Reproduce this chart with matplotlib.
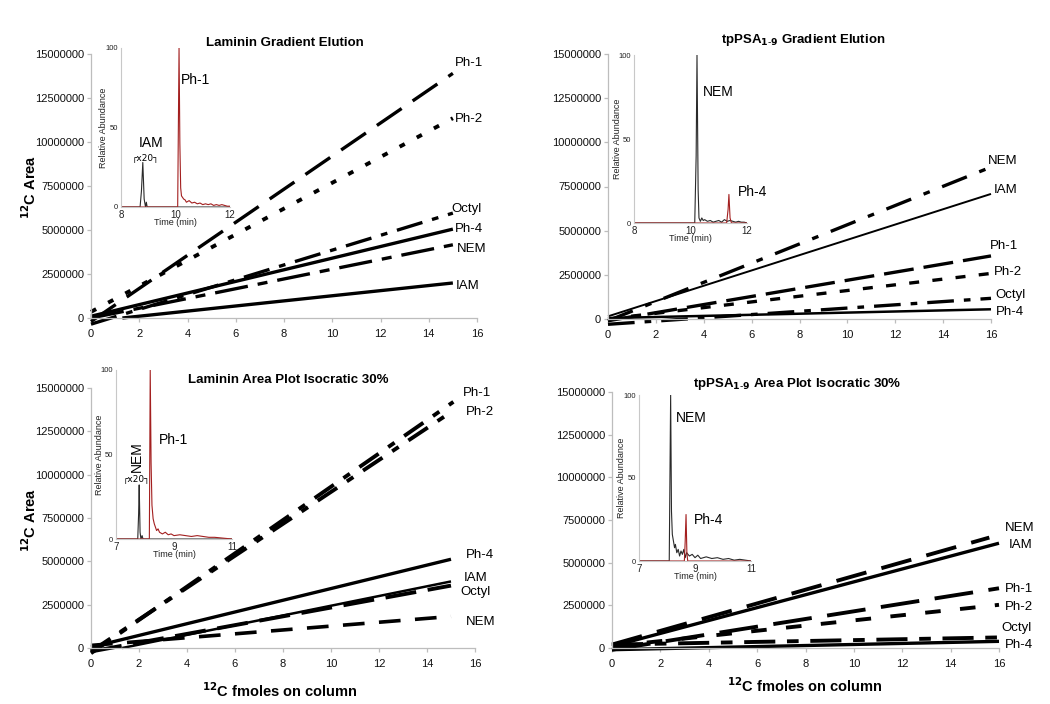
import matplotlib.pyplot as plt
from matplotlib.ticker import FixedLocator

plt.rcParams['font.family'] = ['Liberation Sans', 'DejaVu Sans']

# ---- area plot data: each fitted line as [start, end] ----
tl_names = ['Ph-1', 'Ph-2', 'Octyl', 'Ph-4', 'NEM', 'IAM']
tl_x = [[0, 15], [0, 15], [0, 15], [0, 15], [0, 15], [1.3, 15]]
tl_y = [[-0.2e6, 13.9e6], [0.35e6, 11.35e6], [-0.35e6, 5.96e6],
        [0.1e6, 5.05e6], [0.0, 4.16e6], [0.0, 1.99e6]]

tr_names = ['NEM', 'IAM', 'Ph-1', 'Ph-2', 'Octyl', 'Ph-4']
tr_x = [[0, 15.8], [0, 16], [0, 16], [0, 16], [0, 16], [0, 16]]
tr_y = [[-0.1e6, 8.49e6], [0.15e6, 7.08e6], [-0.1e6, 3.57e6],
        [0.0, 2.58e6], [-0.3e6, 1.17e6], [0.05e6, 0.55e6]]

bl_names = ['Ph-1', 'Ph-2', 'Ph-4', 'IAM', 'Octyl', 'NEM']
bl_x = [[0, 15.1], [0, 15.1], [0, 15], [1.3, 15], [0, 15], [0, 15]]
bl_y = [[-0.3e6, 14.2e6], [-0.2e6, 13.7e6], [0.05e6, 5.12e6],
        [0.0, 3.84e6], [-0.2e6, 3.6e6], [0.15e6, 1.82e6]]

br_names = ['NEM', 'IAM', 'Ph-1', 'Ph-2', 'Octyl', 'Ph-4']
br_x = [[0, 15.6], [0, 16], [0, 16], [0, 16], [0, 16], [0, 16]]
br_y = [[0.2e6, 6.47e6], [0.1e6, 6.14e6], [-0.1e6, 3.5e6],
        [0.1e6, 2.53e6], [0.2e6, 0.62e6], [-0.1e6, 0.39e6]]

y_ticks = [0, 2500000, 5000000, 7500000, 10000000, 12500000, 15000000]
x_ticks = [0, 2, 4, 6, 8, 10, 12, 14, 16]

# ---- chromatogram insets ----
tl_blk_t = [8.0, 8.7, 8.75, 8.8, 8.85, 8.9, 8.93, 8.96, 9.0, 12.0]
tl_blk_i = [0, 0, 10, 28, 5, 0, 3, 0, 0, 0]
tl_red_t = [8.0, 10.08, 10.13, 10.16, 10.19, 10.22, 10.26, 10.3, 10.35, 10.4, 10.5,
            10.6, 10.7, 10.8, 10.9, 11.0, 11.1, 11.2, 11.3, 11.4, 11.5, 11.6,
            11.7, 11.8, 11.9, 12.0]
tl_red_i = [0, 0, 100, 40, 12, 7, 6, 5, 4.5, 3, 4, 2.5, 3, 2, 2.5, 1.5, 2, 1.5,
            2, 1, 1.5, 1, 1.5, 1, 0.5, 0.5]

tr_blk_t = [8.0, 10.15, 10.2, 10.23, 10.27, 10.3, 10.35, 10.4, 10.45, 10.5, 10.6,
            10.7, 10.8, 10.9, 11.0, 11.1, 11.2, 11.3, 11.4, 11.5, 11.6, 11.7,
            11.8, 11.9, 12.0]
tr_blk_i = [0, 0, 40, 100, 20, 3, 1, 3, 1.5, 2, 1, 1.5, 0.5, 1, 1.5, 0.5, 2, 1,
            1.5, 1, 0.5, 1, 0.5, 0.5, 0]
tr_red_t = [8.0, 11.28, 11.33, 11.36, 11.4, 11.45, 12.0]
tr_red_i = [0, 0, 8, 17, 3, 0, 0]

bl_blk_t = [7.0, 7.75, 7.78, 7.8, 7.83, 7.86, 7.9, 7.93, 11.0]
bl_blk_i = [0, 0, 15, 32, 4, 0, 2, 0, 0]
bl_red_t = [7.0, 8.15, 8.18, 8.21, 8.24, 8.28, 8.32, 8.36, 8.4, 8.45, 8.5, 8.6,
            8.7, 8.8, 8.9, 9.0, 9.2, 9.4, 9.6, 9.8, 10.0, 10.2, 10.4, 11.0]
bl_red_i = [0, 0, 100, 45, 20, 12, 9, 7, 5, 6, 4, 3, 4, 2.5, 3, 2, 2.5, 2, 1.5,
            2, 1.5, 1, 1, 0]

br_blk_t = [7.0, 8.08, 8.13, 8.16, 8.19, 8.23, 8.27, 8.3, 8.35, 8.4, 8.45, 8.5,
            8.55, 8.6, 8.65, 8.7, 8.8, 8.9, 9.0, 9.1, 9.2, 9.4, 9.6, 9.8, 10.0,
            10.2, 10.4, 10.6, 10.8, 11.0]
br_blk_i = [0, 0, 100, 30, 16, 12, 8, 10, 5, 7, 3, 6, 4, 7, 2, 5, 3, 4, 2, 3.5,
            1.5, 2.5, 1.5, 2, 1, 1.5, 0.5, 1, 0.5, 0]
br_red_t = [7.0, 8.62, 8.65, 8.68, 8.71, 8.74, 11.0]
br_red_i = [0, 0, 12, 28, 5, 0, 0]

# ---- styles ----
tl_style = [((9, 4), 2.4), ((1.5, 3.5), 2.8), ((8, 3, 2, 3), 2.4),
            (None, 2.4), ((10, 3, 3, 3), 2.4), (None, 2.4)]
tr_style = [((8, 4, 2, 4), 2.4), (None, 1.4), ((9, 3), 2.4),
            ((3, 4), 2.4), ((8, 3, 2, 3), 2.4), (None, 1.8)]
bl_style = [((6, 3, 2, 3), 2.8), ((6, 3, 2, 3), 2.8), (None, 2.4),
            (None, 1.8), ((8, 3), 2.8), ((6, 4), 2.6)]
br_style = [((8, 4), 2.8), (None, 2.4), ((10, 4), 2.8),
            ((4, 5), 2.8), ((8, 3, 3, 3), 2.8), (None, 2.4)]

# label positions (x, y in data units)
tl_lab = [(15.1, 14.5e6), (15.1, 11.3e6), (14.95, 6.2e6), (15.1, 5.05e6),
          (15.15, 3.9e6), (15.1, 1.8e6)]
tr_lab = [(15.85, 8.95e6), (16.1, 7.3e6), (15.95, 4.13e6), (16.1, 2.68e6),
          (16.2, 1.36e6), (16.2, 0.38e6)]
bl_lab = [(15.5, 14.7e6), (15.6, 13.6e6), (15.6, 5.37e6), (15.55, 4.03e6),
          (15.4, 3.22e6), (15.6, 1.5e6)]
br_lab = [(16.25, 7.05e6), (16.4, 6.04e6), (16.25, 3.45e6), (16.25, 2.38e6),
          (16.1, 1.17e6), (16.25, 0.16e6)]

W, H = 1050, 704
fig = plt.figure(figsize=(W / 100, H / 100), dpi=100)


def rect(x0, y0, x1, y1):
    return [x0 / W, 1 - y1 / H, (x1 - x0) / W, (y1 - y0) / H]


def ftext(x, y, s, **kw):
    return fig.text(x / W, 1 - y / H, s, **kw)


def area_panel(r, names, xs, ys, styles, labs, title, title_xy):
    ax = fig.add_axes(rect(*r))
    for name, x, y, (dash, lw), (lx, ly) in zip(names, xs, ys, styles, labs):
        line, = ax.plot(x, y, color='black', lw=lw, clip_on=False,
                        solid_capstyle='butt', dash_capstyle='butt')
        if dash is not None:
            line.set_dashes(dash)
        ax.text(lx, ly, name, fontsize=9.5, ha='left', va='center')
    ax.set_xlim(0, 16)
    ax.set_ylim(0, 15000000)
    ax.xaxis.set_major_locator(FixedLocator(x_ticks))
    ax.yaxis.set_major_locator(FixedLocator(y_ticks))
    ax.set_yticklabels([str(v) for v in y_ticks])
    for s in ['top', 'right']:
        ax.spines[s].set_visible(False)
    for s in ['left', 'bottom']:
        ax.spines[s].set_color('#bdbdbd')
        ax.spines[s].set_linewidth(0.9)
    ax.tick_params(axis='both', colors='#bdbdbd', labelcolor='#111111',
                   labelsize=8, length=3, width=0.9)
    ax.tick_params(axis='y', pad=2)
    ax.tick_params(axis='x', pad=5)
    ax.patch.set_alpha(0)
    ftext(title_xy[0], title_xy[1], title, fontsize=9.5, fontweight='bold',
          ha='center', va='center')
    return ax


def inset(r, bt, bi, rt, ri, xlim, xt):
    ax = fig.add_axes(rect(*r))
    ax.plot(bt, bi, color='#2a2a2a', lw=0.8)
    ax.plot(rt, ri, color='#a31f1f', lw=0.8)
    ax.set_xlim(*xlim)
    ax.set_ylim(0, 100)
    ax.set_xticks(xt)
    ax.set_yticks([0, 50, 100])
    for s in ['top', 'right']:
        ax.spines[s].set_visible(False)
    for s in ['left', 'bottom']:
        ax.spines[s].set_color('#c8c8c8')
        ax.spines[s].set_linewidth(0.8)
    ax.tick_params(axis='both', length=0, pad=2, labelcolor='#222222')
    ax.tick_params(axis='y', labelsize=5.5)
    ax.tick_params(axis='x', labelsize=7)
    ax.set_xlabel('Time (min)', fontsize=6.5, labelpad=-1, color='#222222')
    ax.set_ylabel('Relative Abundance', fontsize=6.5, labelpad=-2,
                  color='#222222')
    ax.patch.set_alpha(0)
    return ax


area_panel((91, 54, 477, 318), tl_names, tl_x, tl_y, tl_style, tl_lab,
           'Laminin Gradient Elution', (285, 43))
area_panel((608, 54, 991, 319), tr_names, tr_x, tr_y, tr_style, tr_lab,
           r'tpPSA$_{\mathbf{1\text{-}9}}$ Gradient Elution', (803, 40))
area_panel((91, 388, 475, 648), bl_names, bl_x, bl_y, bl_style, bl_lab,
           'Laminin Area Plot Isocratic 30%', (288, 380))
area_panel((612, 392, 999, 648), br_names, br_x, br_y, br_style, br_lab,
           r'tpPSA$_{\mathbf{1\text{-}9}}$ Area Plot Isocratic 30%', (797, 384))

# axis titles
ytitle = r'$\mathbf{^{12}}$C Area'
xtitle = r'$\mathbf{^{12}}$C fmoles on column'
ftext(30, 187, ytitle, fontsize=10.5, fontweight='bold', rotation=90,
      ha='center', va='center')
ftext(30, 520, ytitle, fontsize=10.5, fontweight='bold', rotation=90,
      ha='center', va='center')
ftext(280, 691, xtitle, fontsize=10.5, fontweight='bold', ha='center', va='center')
ftext(805, 686, xtitle, fontsize=10.5, fontweight='bold', ha='center', va='center')

a = inset((121, 48, 230, 207), tl_blk_t, tl_blk_i, tl_red_t, tl_red_i, (8, 12), [8, 10, 12])
a.text(9.1, 40, 'IAM', fontsize=10, ha='center', va='center')
a.text(8.88, 31, '┌x20┐', fontsize=6.5, ha='center', va='center', family=['DejaVu Sans'])
a.text(10.2, 80, 'Ph-1', fontsize=10, ha='left', va='center')

a = inset((634, 55, 747, 223), tr_blk_t, tr_blk_i, tr_red_t, tr_red_i, (8, 12), [8, 10, 12])
a.text(10.44, 78, 'NEM', fontsize=10, ha='left', va='center')
a.text(11.68, 18.5, 'Ph-4', fontsize=10, ha='left', va='center')

a = inset((116, 370, 232, 539), bl_blk_t, bl_blk_i, bl_red_t, bl_red_i, (7, 11), [7, 9, 11])
a.text(7.72, 49, 'NEM', fontsize=10, ha='center', va='center', rotation=90)
a.text(7.71, 35.5, '┌x20┐', fontsize=6.5, ha='center', va='center', family=['DejaVu Sans'])
a.text(8.48, 58.6, 'Ph-1', fontsize=10, ha='left', va='center')

a = inset((639, 395, 751, 561), br_blk_t, br_blk_i, br_red_t, br_red_i, (7, 11), [7, 9, 11])
a.text(8.32, 86, 'NEM', fontsize=10, ha='left', va='center')
a.text(8.96, 24.7, 'Ph-4', fontsize=10, ha='left', va='center')

fig.savefig('out.png', dpi=100)
